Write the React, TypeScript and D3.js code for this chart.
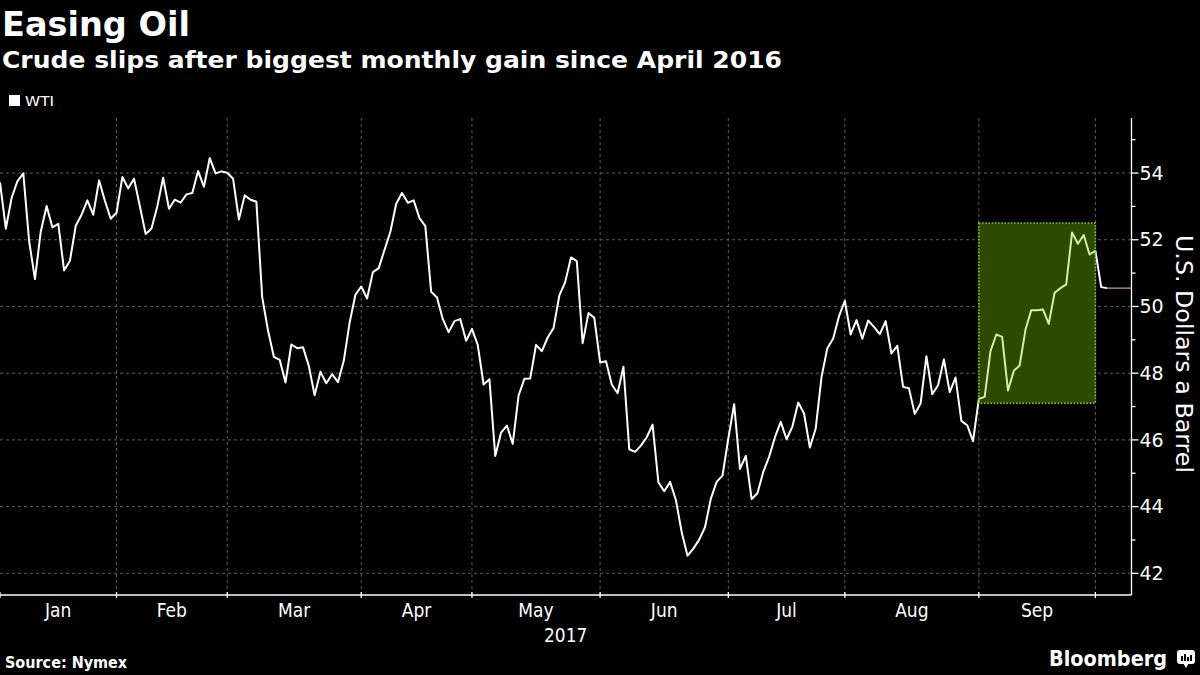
import React, { useEffect } from "react";
import * as d3 from "d3";

// WTI settlement prices, one value per trading day (Dec 30 2016 .. Oct 3 2017)
const dec2016 = [53.72];
const jan = [52.33, 53.26, 53.76, 53.99, 51.96, 50.82, 52.25, 53.01, 52.37, 52.48, 51.08, 51.37, 52.42, 52.75, 53.18, 52.75, 53.78, 53.17, 52.63, 52.81];
const feb = [53.88, 53.54, 53.83, 53.01, 52.17, 52.34, 53.0, 53.86, 52.93, 53.2, 53.11, 53.36, 53.4, 54.06, 53.59, 54.45, 53.99, 54.05, 54.01];
const mar = [53.83, 52.61, 53.33, 53.2, 53.14, 50.28, 49.28, 48.49, 48.4, 47.72, 48.86, 48.75, 48.78, 48.22, 47.34, 48.04, 47.7, 47.97, 47.73, 48.37, 49.51, 50.35, 50.6];
const apr = [50.24, 51.03, 51.15, 51.7, 52.24, 53.08, 53.4, 53.11, 53.18, 52.65, 52.41, 50.44, 50.27, 49.62, 49.23, 49.56, 49.62, 48.97, 49.33];
const may = [48.84, 47.66, 47.82, 45.52, 46.22, 46.43, 45.88, 47.33, 47.83, 47.84, 48.85, 48.66, 49.07, 49.35, 50.33, 50.73, 51.47, 51.36, 48.9, 49.8, 49.66, 48.32];
const jun = [48.36, 47.66, 47.4, 48.19, 45.72, 45.64, 45.83, 46.08, 46.46, 44.73, 44.46, 44.74, 44.2, 43.23, 42.53, 42.74, 43.01, 43.38, 44.24, 44.74, 44.93, 46.04];
const jul = [47.07, 45.13, 45.52, 44.23, 44.4, 45.04, 45.49, 46.08, 46.54, 46.02, 46.4, 47.12, 46.79, 45.77, 46.34, 47.89, 48.75, 49.04, 49.71, 50.17];
const aug = [49.16, 49.59, 49.03, 49.58, 49.39, 49.17, 49.56, 48.59, 48.82, 47.59, 47.55, 46.78, 47.09, 48.51, 47.37, 47.64, 48.41, 47.43, 47.87, 46.57, 46.44, 45.96, 47.23];
const sep = [47.29, 48.66, 49.16, 49.09, 47.48, 48.07, 48.23, 49.3, 49.89, 49.89, 49.91, 49.48, 50.41, 50.55, 50.66, 52.22, 51.88, 52.14, 51.56, 51.67];
const oct = [50.58, 50.55];

const monthSeries = [dec2016, jan, feb, mar, apr, may, jun, jul, aug, sep];
const monthLabels = ["Jan", "Feb", "Mar", "Apr", "May", "Jun", "Jul", "Aug", "Sep"];
const yearLabel = "2017";
const yTicks = [42, 44, 46, 48, 50, 52, 54];
const yMinorTicks = [43, 45, 47, 49, 51, 53, 55];

// highlight box: from last day of Aug to last day of Sep
const boxValueRange = [47.1, 52.5];

const title = "Easing Oil";
const subtitle = "Crude slips after biggest monthly gain since April 2016";
const seriesName = "WTI";
const axisTitle = "U.S. Dollars a Barrel";
const source = "Source: Nymex";

const W = 1200;
const H = 675;
const plotTop = 118;
const plotBottom = 595;
const plotLeft = 0;
const plotRight = 1131.5;

const values: number[] = [...monthSeries.flat(), ...oct];
// index of last trading day of each month (Dec..Sep)
const monthEnds: number[] = [];
{
  let c = -1;
  for (const m of monthSeries) {
    c += m.length;
    monthEnds.push(c);
  }
}

const x = d3.scaleLinear().domain([0, 194.2]).range([plotLeft, plotRight]);
const y = d3.scaleLinear().domain([41.35, 55.65]).range([plotBottom, plotTop]);

const pts = values.map((v, i) => [x(i), y(v)] as [number, number]);
const linePath = d3.line()(pts) || "";

const boxX0 = x(monthEnds[8]);
const boxX1 = x(monthEnds[9]);
const boxY0 = y(boxValueRange[1]);
const boxY1 = y(boxValueRange[0]);

const condensed = "'DejaVu Sans Condensed', 'Liberation Sans Narrow', 'DejaVu Sans', sans-serif";
const grid = "#5e5e5e";

export default function App() {
  useEffect(() => {
    document.body.style.margin = "0";
    document.body.style.background = "#000";
  }, []);
  const last = pts[pts.length - 1];
  return (
    <div style={{ position: "absolute", left: 0, top: 0, width: W, height: H, background: "#000" }}>
      <svg width={W} height={H} viewBox={`0 0 ${W} ${H}`} style={{ display: "block" }}>
        <rect x={0} y={0} width={W} height={H} fill="#000" />
        <defs>
          <clipPath id="boxclip">
            <rect x={boxX0} y={boxY0} width={boxX1 - boxX0} height={boxY1 - boxY0} />
          </clipPath>
        </defs>
        {/* titles */}
        <text x={2} y={36} fill="#fff" fontFamily="'DejaVu Sans', sans-serif" fontWeight="bold" fontSize={33} textLength={188} lengthAdjust="spacingAndGlyphs">
          {title}
        </text>
        <text x={2} y={68} fill="#fff" fontFamily="'DejaVu Sans', sans-serif" fontWeight="bold" fontSize={23} textLength={780} lengthAdjust="spacingAndGlyphs">
          {subtitle}
        </text>
        {/* legend */}
        <rect x={9} y={95} width={11} height={11} fill="#fff" />
        <text x={25} y={106} fill="#fff" fontFamily={condensed} fontSize={14} textLength={29} lengthAdjust="spacingAndGlyphs">
          {seriesName}
        </text>
        {/* horizontal grid */}
        {yTicks.map((t) => (
          <line key={"h" + t} x1={plotLeft} x2={plotRight} y1={y(t)} y2={y(t)} stroke={grid} strokeDasharray="3,3" strokeWidth={1} />
        ))}
        {/* vertical grid */}
        {monthEnds.slice(1).map((m) => (
          <line key={"v" + m} x1={x(m)} x2={x(m)} y1={plotTop} y2={plotBottom} stroke={grid} strokeDasharray="3,3" strokeWidth={1} />
        ))}
        {/* series line */}
        <path d={linePath} fill="none" stroke="#fff" strokeWidth={2} strokeLinejoin="round" />
        {/* highlight box */}
        <rect x={boxX0} y={boxY0} width={boxX1 - boxX0} height={boxY1 - boxY0} fill="#2e4a00" />
        <path d={linePath} fill="none" stroke="#d6efa6" strokeWidth={2} strokeLinejoin="round" clipPath="url(#boxclip)" />
        <rect x={boxX0} y={boxY0} width={boxX1 - boxX0} height={boxY1 - boxY0} fill="none" stroke="#86c23a" strokeWidth={1.6} strokeDasharray="1.6,1.6" />
        {/* last price line */}
        <line x1={last[0]} x2={plotRight} y1={last[1]} y2={last[1]} stroke="#e0a062" strokeWidth={1.2} />
        {/* right axis */}
        <line x1={plotRight} x2={plotRight} y1={plotTop} y2={plotBottom} stroke="#fff" strokeWidth={1.3} />
        {yTicks.map((t) => (
          <g key={"yt" + t}>
            <line x1={plotRight} x2={plotRight + 7} y1={y(t)} y2={y(t)} stroke="#fff" strokeWidth={1.3} />
            <text x={plotRight + 8} y={y(t)} dy="0.35em" fill="#fff" fontFamily="'DejaVu Sans', sans-serif" fontSize={19}>
              {t}
            </text>
          </g>
        ))}
        {yMinorTicks.map((t) => (
          <line key={"ym" + t} x1={plotRight} x2={plotRight + 4} y1={y(t)} y2={y(t)} stroke="#fff" strokeWidth={1.3} />
        ))}
        <text
          transform={`translate(1176,${(235 + 473) / 2}) rotate(90)`}
          textAnchor="middle"
          fill="#fff"
          fontFamily="'DejaVu Sans', sans-serif"
          fontSize={23}
          textLength={238}
          lengthAdjust="spacingAndGlyphs"
        >
          {axisTitle}
        </text>
        {/* bottom axis */}
        <line x1={plotLeft} x2={plotRight} y1={plotBottom} y2={plotBottom} stroke="#fff" strokeWidth={1.3} />
        {monthEnds.map((m) => (
          <line key={"xt" + m} x1={x(m)} x2={x(m)} y1={plotBottom - 3} y2={plotBottom + 3} stroke="#fff" strokeWidth={1.3} />
        ))}
        {monthLabels.map((lbl, i) => (
          <text
            key={lbl}
            x={(x(monthEnds[i]) + x(monthEnds[i + 1])) / 2}
            y={617}
            textAnchor="middle"
            fill="#fff"
            fontFamily={condensed}
            fontSize={19}
          >
            {lbl}
          </text>
        ))}
        <text x={(plotLeft + plotRight) / 2} y={642} textAnchor="middle" fill="#fff" fontFamily={condensed} fontSize={19}>
          {yearLabel}
        </text>
        {/* footer */}
        <text x={5} y={668} fill="#fff" fontFamily="'DejaVu Sans Condensed', 'DejaVu Sans', sans-serif" fontWeight="bold" fontSize={16}>
          {source}
        </text>
        <text x={1049} y={666} fill="#fff" fontFamily="'DejaVu Sans', sans-serif" fontWeight="bold" fontSize={21} textLength={118} lengthAdjust="spacingAndGlyphs">
          Bloomberg
        </text>
        <g>
          <rect x={1177} y={650} width={18} height={14} rx={3} fill="#fff" />
          <path d="M1183,663 L1186,668 L1189,663 Z" fill="#fff" />
          <rect x={1181} y={656} width={2} height={5} fill="#000" />
          <rect x={1184} y={654} width={2} height={7} fill="#000" />
          <rect x={1187} y={657} width={2} height={4} fill="#000" />
          <rect x={1190} y={655} width={2} height={6} fill="#000" />
        </g>
      </svg>
    </div>
  );
}
